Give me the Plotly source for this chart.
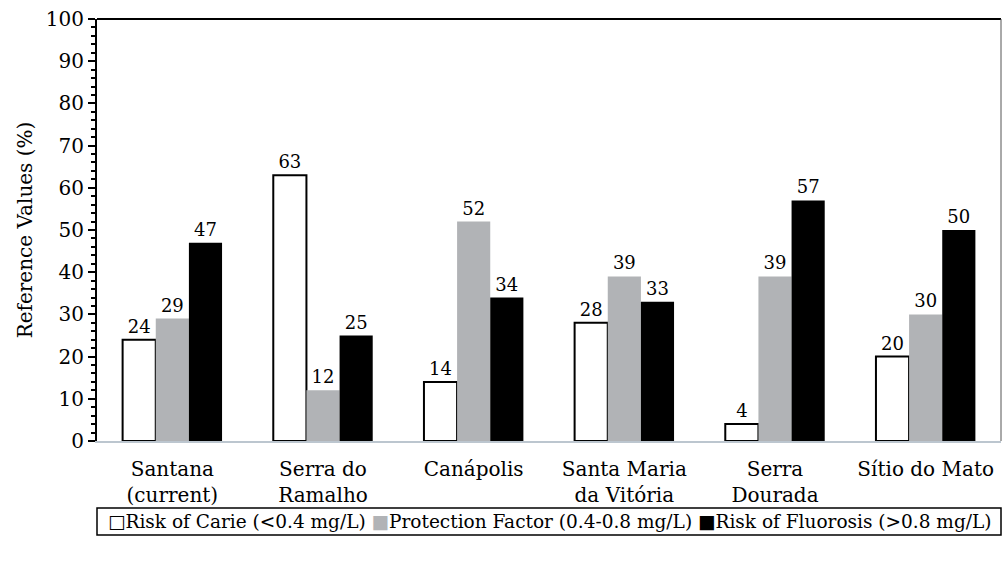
import plotly.graph_objects as go

categories = ["Santana<br>(current)", "Serra do<br>Ramalho", "Canápolis",
              "Santa Maria<br>da Vitória", "Serra<br>Dourada", "Sítio do Mato"]
carie = [24, 63, 14, 28, 4, 20]
protection = [29, 12, 52, 39, 39, 30]
fluorosis = [47, 25, 34, 33, 57, 50]
series_names = ["Risk of Carie (<0.4 mg/L)", "Protection Factor (0.4-0.8 mg/L)",
                "Risk of Fluorosis (>0.8 mg/L)"]

FONT = "DejaVu Serif"
GRAY = "#b1b3b6"

fig = go.Figure()
fig.add_trace(go.Bar(x=categories, y=carie, name=series_names[0],
                     marker=dict(color="white", line=dict(color="black", width=2)),
                     text=carie, textposition="outside", cliponaxis=False))
fig.add_trace(go.Bar(x=categories, y=protection, name=series_names[1],
                     marker=dict(color=GRAY, line=dict(width=0)),
                     text=protection, textposition="outside", cliponaxis=False))
fig.add_trace(go.Bar(x=categories, y=fluorosis, name=series_names[2],
                     marker=dict(color="black", line=dict(width=0)),
                     text=fluorosis, textposition="outside", cliponaxis=False))

fig.update_traces(textfont=dict(family=FONT, size=18, color="black"))

fig.update_layout(
    width=1003, height=562,
    margin=dict(l=97, r=2, t=19, b=121),
    paper_bgcolor="white", plot_bgcolor="white",
    barmode="group", bargap=0.34, bargroupgap=0,
    showlegend=False,
    font=dict(family=FONT, color="black"),
)
fig.update_yaxes(range=[0, 100], dtick=10, showgrid=False, zeroline=False,
                 showline=True, linecolor="black", linewidth=2,
                 ticks="outside", ticklen=7, tickwidth=2, tickcolor="black",
                 minor=dict(dtick=2, ticks="outside", ticklen=4, tickwidth=1.5, tickcolor="black"),
                 tickfont=dict(family=FONT, size=20, color="black"),
                 title=dict(text="Reference Values (%)", font=dict(family=FONT, size=20, color="black"),
                            standoff=8))
fig.update_xaxes(showgrid=False, zeroline=False, showline=True, linecolor="#bcc6cf", linewidth=2,
                 ticks="", ticklabelstandoff=9, tickfont=dict(family=FONT, size=20, color="black"))

# plot frame (top and right)
fig.add_shape(type="line", xref="paper", yref="paper", x0=0, x1=1, y0=1, y1=1,
              line=dict(color="black", width=2))
fig.add_shape(type="line", xref="paper", yref="paper", x0=1, x1=1, y0=0, y1=1,
              line=dict(color="#555555", width=1))

# legend box
fig.add_shape(type="rect", xref="paper", yref="paper", x0=0, x1=1,
              y0=(441 - 535) / 422, y1=(441 - 508) / 422,
              line=dict(color="black", width=1.5), fillcolor="rgba(0,0,0,0)")
legend_text = ("□" + series_names[0] + " "
               + f"<span style='color:{GRAY}'>■</span>" + series_names[1] + " "
               + "■" + series_names[2])
fig.add_annotation(xref="paper", yref="paper", x=0.5, y=(441 - 521.5) / 422,
                   xanchor="center", yanchor="middle", showarrow=False,
                   text=legend_text, font=dict(family=FONT, size=18.5, color="black"))

fig.write_html("out.html", config={"displayModeBar": False},
               post_script="document.body.style.margin='0';document.body.style.overflow='hidden';")
